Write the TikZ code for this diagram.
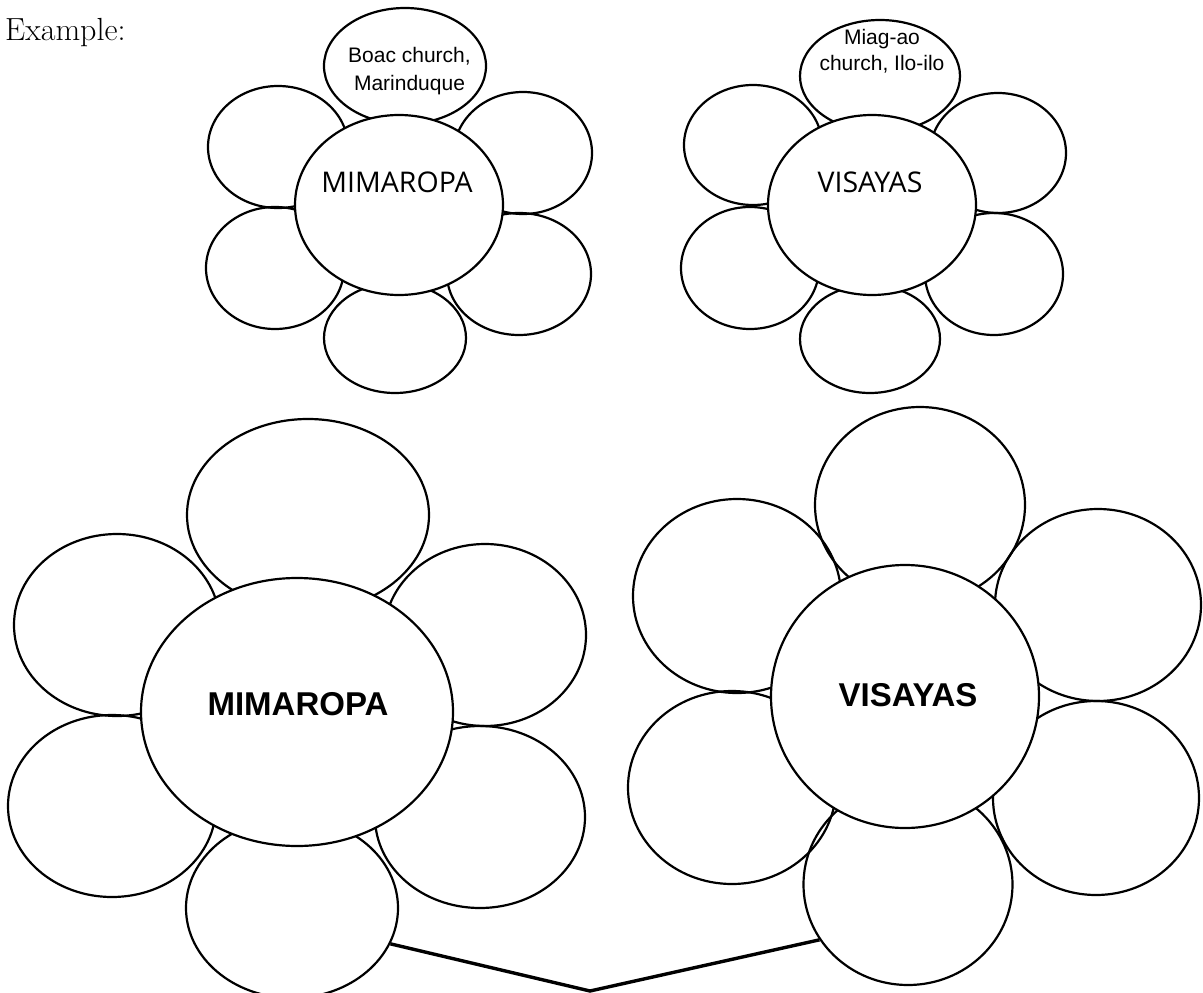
\documentclass[tikz,border=0pt]{standalone}
\usepackage{fontspec}
\usepackage{tikz}
\usetikzlibrary{shapes.geometric}
\newfontfamily\arialfont{Liberation Sans}
\newfontfamily\softfont{Open Sans}
\tikzset{
  petal/.style={draw, ellipse, line width=2.2pt, inner sep=0pt},
  heart/.style={petal, fill=white},
  thinname/.style={inner sep=0pt, font=\softfont\fontsize{28.5}{32}\selectfont},
  boldname/.style={inner sep=0pt, font=\arialfont\bfseries\fontsize{33}{36}\selectfont},
  church/.style={inner sep=0pt, anchor=base, font=\arialfont\fontsize{21}{25}\selectfont},
  stem/.style={line width=3.4pt}
}

\begin{document}
\begin{tikzpicture}[x=1pt,y=-1pt]
\useasboundingbox (0,0) rectangle (1203,993);
\node[anchor=base west, inner sep=0pt, font=\fontsize{32}{35}\selectfont] (example) at (5,40) {Example:};

% small flower MIMAROPA
\node[petal, minimum width=162pt, minimum height=116pt] (smTop) at (405,66) {};
\node[petal, minimum width=140pt, minimum height=122pt] (smUL) at (278,147) {};
\node[petal, minimum width=138pt, minimum height=122pt] (smUR) at (523,153) {};
\node[petal, minimum width=138pt, minimum height=122pt] (smLL) at (275,268) {};
\node[petal, minimum width=144pt, minimum height=122pt] (smLR) at (519,274) {};
\node[petal, minimum width=142pt, minimum height=110pt] (smBot) at (395,338) {};
\node[heart, minimum width=208pt, minimum height=180pt] (smMid) at (399,205) {};
\node[thinname] (smName) at (397,182.5) {MIMAROPA};
\node[church] (smChurchA) at (409.5,62) {Boac church,};
\node[church] (smChurchB) at (409.5,90) {Marinduque};

% small flower VISAYAS
\node[petal, minimum width=160pt, minimum height=112pt] (svTop) at (880,76) {};
\node[petal, minimum width=138pt, minimum height=120pt] (svUL) at (753,145) {};
\node[petal, minimum width=136pt, minimum height=120pt] (svUR) at (998,153) {};
\node[petal, minimum width=138pt, minimum height=122pt] (svLL) at (750,268) {};
\node[petal, minimum width=138pt, minimum height=122pt] (svLR) at (994,274) {};
\node[petal, minimum width=140pt, minimum height=108pt] (svBot) at (870,339) {};
\node[heart, minimum width=208pt, minimum height=180pt] (svMid) at (872,205) {};
\node[thinname] (svName) at (870,182) {VISAYAS};
\node[church] (svChurchA) at (882,45) {Miag-ao};
\node[church] (svChurchB) at (882,70) {church, Ilo-ilo};

% big flower MIMAROPA
\node[petal, minimum width=242pt, minimum height=192pt] (bmTop) at (308,515) {};
\node[petal, minimum width=206pt, minimum height=182pt] (bmUL) at (117,625) {};
\node[petal, minimum width=202pt, minimum height=182pt] (bmUR) at (485,635) {};
\node[petal, minimum width=208pt, minimum height=182pt] (bmLL) at (112,806) {};
\node[petal, minimum width=210pt, minimum height=182pt] (bmLR) at (480,817) {};
\node[petal, minimum width=212pt, minimum height=180pt] (bmBot) at (292,908) {};
\node[heart, minimum width=312pt, minimum height=268pt] (bmMid) at (297,712) {};
\node[boldname] (bmName) at (298,704.5) {MIMAROPA};

% big flower VISAYAS
\node[petal, minimum width=210pt, minimum height=196pt] (bvTop) at (920,505) {};
\node[petal, minimum width=208pt, minimum height=194pt] (bvUL) at (737,596) {};
\node[petal, minimum width=206pt, minimum height=192pt] (bvUR) at (1098,605) {};
\node[petal, minimum width=208pt, minimum height=193pt] (bvLL) at (732,787.5) {};
\node[petal, minimum width=206pt, minimum height=194pt] (bvLR) at (1096,798) {};
\node[petal, minimum width=209pt, minimum height=201pt] (bvBot) at (908,884.5) {};
\node[heart, minimum width=268pt, minimum height=263pt] (bvMid) at (905,696.5) {};
\node[boldname] (bvName) at (908,695.5) {VISAYAS};

% stem joining the two big flowers
\coordinate (stemTip) at (590,991);
\draw[stem] (bmBot.-20) -- (stemTip) -- (bvBot.212);
\end{tikzpicture}
\end{document}
